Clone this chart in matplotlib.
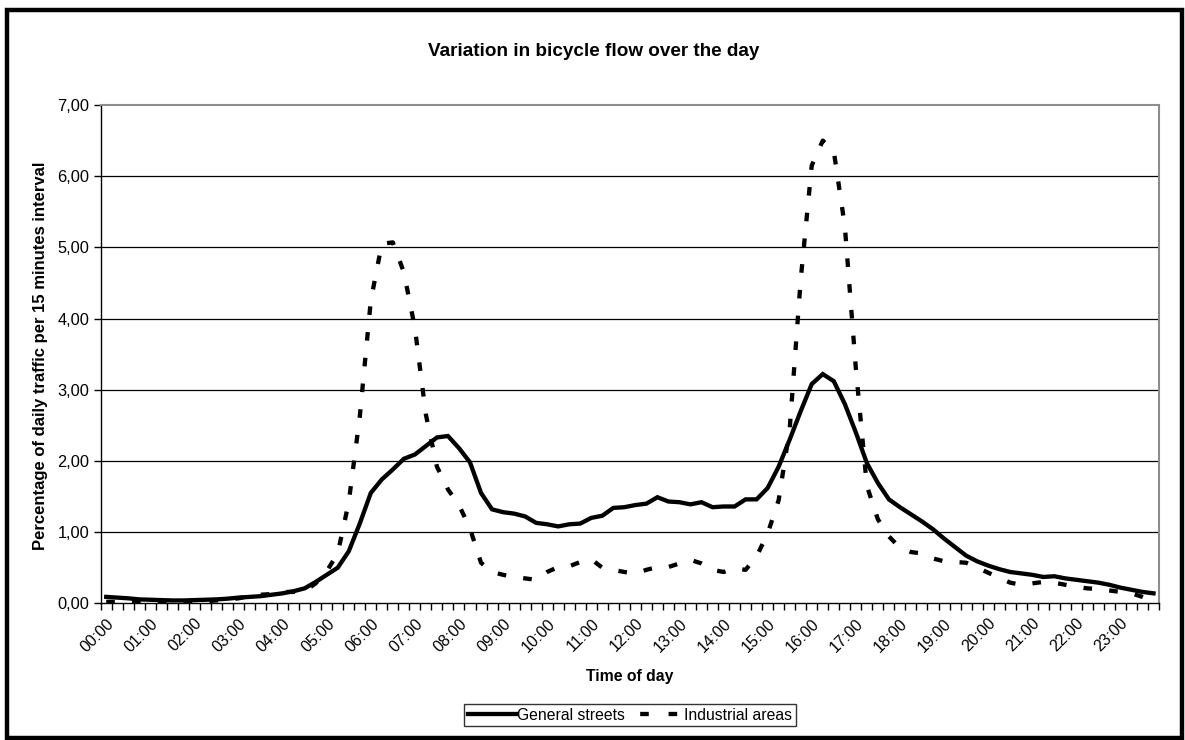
import numpy as np
import matplotlib
matplotlib.use("Agg")
import matplotlib.pyplot as plt
from matplotlib.patches import Rectangle
from matplotlib.lines import Line2D

plt.rcParams["font.family"] = ["Liberation Sans", "DejaVu Sans"]

# hour labels (one every 4 quarter-hours)
hour_labels = ["%02d:00" % h for h in range(24)]

# percentage of daily traffic per 15 min, 96 intervals
general_streets = [
    0.09, 0.08, 0.07, 0.055, 0.05, 0.045, 0.04, 0.04, 0.045, 0.05, 0.055, 0.065,
    0.08, 0.09, 0.10, 0.12, 0.14, 0.17, 0.21, 0.30, 0.40, 0.50, 0.73, 1.12,
    1.55, 1.74, 1.88, 2.03, 2.09, 2.21, 2.33, 2.35, 2.18, 1.98, 1.55, 1.32,
    1.28, 1.26, 1.22, 1.13, 1.11, 1.08, 1.11, 1.12, 1.20, 1.23, 1.34, 1.35,
    1.38, 1.40, 1.49, 1.43, 1.42, 1.39, 1.42, 1.35, 1.36, 1.36, 1.46, 1.46,
    1.62, 1.92, 2.30, 2.70, 3.08, 3.22, 3.12, 2.80, 2.40, 1.97, 1.69, 1.46,
    1.35, 1.25, 1.15, 1.04, 0.91, 0.79, 0.67, 0.59, 0.53, 0.48, 0.44, 0.42,
    0.40, 0.37, 0.38, 0.35, 0.33, 0.31, 0.29, 0.26, 0.22, 0.19, 0.16, 0.14,
]
industrial_areas = [
    0.02, 0.02, 0.02, 0.02, 0.03, 0.03, 0.03, 0.03, 0.03, 0.03, 0.04, 0.05,
    0.07, 0.10, 0.12, 0.13, 0.16, 0.16, 0.17, 0.28, 0.45, 0.70, 1.42, 2.62,
    4.25, 5.05, 5.07, 4.65, 3.87, 2.65, 1.92, 1.60, 1.38, 1.05, 0.57, 0.44,
    0.40, 0.37, 0.35, 0.33, 0.44, 0.51, 0.52, 0.58, 0.62, 0.50, 0.47, 0.44,
    0.42, 0.47, 0.51, 0.51, 0.56, 0.61, 0.56, 0.47, 0.44, 0.49, 0.47, 0.66,
    0.98, 1.45, 2.45, 4.55, 6.15, 6.50, 6.35, 5.30, 3.30, 1.65, 1.18, 0.94,
    0.78, 0.72, 0.70, 0.63, 0.59, 0.58, 0.57, 0.50, 0.43, 0.36, 0.29, 0.26,
    0.28, 0.30, 0.29, 0.26, 0.23, 0.21, 0.20, 0.18, 0.16, 0.14, 0.09, 0.03,
]

W, H = 1185, 740
fig = plt.figure(figsize=(W / 100, H / 100), dpi=100)

# chart area border
fig.add_artist(Rectangle((7 / W, 1 - 738 / H), 1175 / W, 728 / H,
                         transform=fig.transFigure, fill=False,
                         edgecolor="black", linewidth=3.2))

ax = fig.add_axes([100.7 / W, 1 - 603.3 / H, 1058.3 / W, 498.3 / H])

x = np.arange(len(general_streets))
ax.plot(x, general_streets, color="black", linewidth=3.1,
        solid_joinstyle="miter", label="General streets")
ax.plot(x, industrial_areas, color="black", linewidth=3.1,
        linestyle=(0, (2.0, 4.0)), dash_capstyle="butt",
        label="Industrial areas")

ax.set_xlim(-0.5, len(x) - 0.5)
ax.set_ylim(0, 7)

# y axis
ax.set_yticks(np.arange(0, 8, 1))
ax.set_yticklabels(["%d,00" % v for v in range(8)], fontsize=11.8)
ax.tick_params(axis="y", direction="out", length=5, width=1, pad=3)
for v in range(1, 7):
    ax.axhline(v, color="black", linewidth=0.9, zorder=0)

# x axis: tick marks between categories, labels every hour
ax.set_xticks(np.arange(0, 96, 4))
ax.set_xticklabels(hour_labels, fontsize=11.5, rotation=45,
                   ha="right", va="top", rotation_mode="anchor")
ax.set_xticks(np.arange(-0.5, 96, 1), minor=True)
ax.tick_params(axis="x", which="major", length=0, pad=9)
ax.tick_params(axis="x", which="minor", direction="out", length=5, width=1)

for s in ["left", "bottom"]:
    ax.spines[s].set_color("black")
    ax.spines[s].set_linewidth(1)
for s in ["top", "right"]:
    ax.spines[s].set_color("#8c8c8c")
    ax.spines[s].set_linewidth(1.5)

fig.text(594 / W, 1 - 52 / H, "Variation in bicycle flow over the day",
         ha="center", va="center", fontsize=13.6, fontweight="bold")
fig.text(630 / W, 1 - 677 / H, "Time of day",
         ha="center", va="center", fontsize=11.3, fontweight="bold")
fig.text(41 / W, 1 - 356 / H,
         "Percentage of daily traffic per 15 minutes interval",
         ha="center", va="center", rotation=90, fontsize=12, fontweight="bold")

handles = [
    Line2D([], [], color="black", linewidth=3.1),
    Line2D([], [], color="black", linewidth=3.1, linestyle=(5.4, (2.0, 4.6))),
]
leg = fig.legend(handles, ["General streets", "Industrial areas"],
                 loc="center", bbox_to_anchor=(630 / W, 1 - 715 / H),
                 ncol=2, fontsize=11.3, frameon=True, fancybox=False,
                 handlelength=3.1, handletextpad=0.05, columnspacing=0.6,
                 borderpad=0.25, borderaxespad=0)
leg.get_frame().set_edgecolor("black")
leg.get_frame().set_linewidth(1)

fig.savefig("out.png", dpi=100)
